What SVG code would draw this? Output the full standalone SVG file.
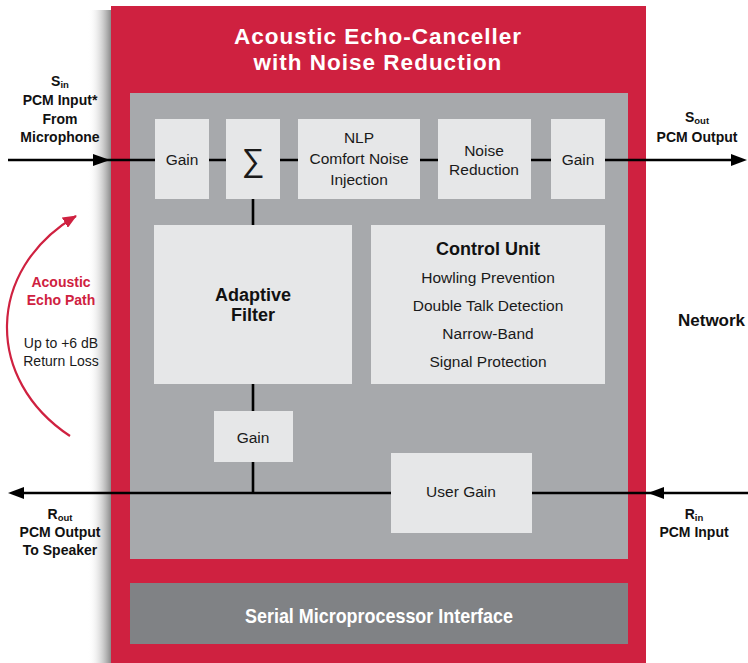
<svg xmlns="http://www.w3.org/2000/svg" width="748" height="663" viewBox="0 0 748 663">
<style>
text{font-family:"Liberation Sans",Arial,sans-serif;}
.blk{fill:#e6e7e8;}
.t{font-size:15.5px;fill:#1a1a1a;text-anchor:middle;}
.b{font-size:18px;font-weight:bold;fill:#111;text-anchor:middle;}
.lbl{font-size:14px;font-weight:bold;fill:#111;text-anchor:middle;}
.sub{font-size:9.5px;}
.ttl{font-size:22.5px;font-weight:bold;fill:#fff;text-anchor:middle;letter-spacing:1px;}
.ln{stroke:#000;stroke-width:2.6;fill:none;}
.ah{fill:#000;}
</style>
<defs>
<linearGradient id="sh" x1="0" y1="0" x2="1" y2="0">
<stop offset="0" stop-color="#fff" stop-opacity="0"/>
<stop offset="1" stop-color="#8a8a8a"/>
</linearGradient>
<marker id="ra" markerUnits="userSpaceOnUse" markerWidth="14" markerHeight="12" refX="13" refY="6" orient="auto">
<path d="M0,0 L14,6 L0,12 z" fill="#cf2140"/>
</marker>
</defs>
<rect width="748" height="663" fill="#fff"/>
<rect x="88" y="10" width="23" height="653" fill="url(#sh)"/>
<g id="chip">
<rect x="111" y="6" width="535" height="657" fill="#cf2140"/>
<text class="ttl" x="378" y="44">Acoustic Echo-Canceller</text>
<text class="ttl" x="378" y="70">with Noise Reduction</text>
<rect x="130" y="93" width="498" height="466" fill="#a7a9ac"/>
</g>
<g id="serial">
<rect x="130" y="583" width="498" height="61" fill="#808285"/>
<text x="379" y="623" font-size="20" font-weight="bold" fill="#fff" text-anchor="middle" textLength="268" lengthAdjust="spacingAndGlyphs">Serial Microprocessor Interface</text>
</g>
<g id="connectors">
<path class="ln" d="M8,160 H155 M209,160 H226 M280,160 H298 M420,160 H438 M531,160 H551 M605,160 H734"/>
<path class="ln" d="M253,199 V225 M253,384 V411 M253,462 V493"/>
<path class="ln" d="M748,493 H532 M391,493 H22"/>
<polygon class="ah" points="110,160 93,154 93,166"/>
<polygon class="ah" points="747,160 731,154 731,166"/>
<polygon class="ah" points="648,493 664,487 664,499"/>
<polygon class="ah" points="8,493 24,487 24,499"/>
<path d="M70,436 C-15,380 -15,270 76,216" stroke="#cf2140" stroke-width="2.2" fill="none" marker-end="url(#ra)"/>
</g>
<g id="gain1"><rect class="blk" x="155" y="119" width="54" height="80"/><text class="t" x="182" y="165">Gain</text></g>
<g id="sum"><rect class="blk" x="226" y="119" width="54" height="80"/><text x="253" y="171" font-size="32" fill="#1a1a1a" text-anchor="middle" font-family="'DejaVu Sans',sans-serif">∑</text></g>
<g id="nlp"><rect class="blk" x="298" y="119" width="122" height="80"/>
<text class="t" x="359" y="143">NLP</text><text class="t" x="359" y="164">Comfort Noise</text><text class="t" x="359" y="185">Injection</text></g>
<g id="noise"><rect class="blk" x="438" y="119" width="93" height="80"/>
<text class="t" x="484" y="156">Noise</text><text class="t" x="484" y="175">Reduction</text></g>
<g id="gain2"><rect class="blk" x="551" y="119" width="54" height="80"/><text class="t" x="578" y="165">Gain</text></g>
<g id="adaptive"><rect class="blk" x="154" y="225" width="198" height="159"/>
<text class="b" x="253" y="301">Adaptive</text><text class="b" x="253" y="321">Filter</text></g>
<g id="control"><rect class="blk" x="371" y="225" width="234" height="159"/>
<text class="b" x="488" y="255">Control Unit</text>
<text class="t" x="488" y="283">Howling Prevention</text>
<text class="t" x="488" y="311">Double Talk Detection</text>
<text class="t" x="488" y="339">Narrow-Band</text>
<text class="t" x="488" y="367">Signal Protection</text></g>
<g id="gain3"><rect class="blk" x="214" y="411" width="79" height="51"/><text class="t" x="253" y="443">Gain</text></g>
<g id="usergain"><rect class="blk" x="391" y="453" width="141" height="80"/><text class="t" x="461" y="497">User Gain</text></g>
<g id="labels">
<text class="lbl" x="60" y="86">S<tspan class="sub" dy="2">in</tspan></text>
<text class="lbl" x="60" y="105">PCM Input*</text>
<text class="lbl" x="60" y="124">From</text>
<text class="lbl" x="60" y="142">Microphone</text>
<text class="lbl" x="697" y="122">S<tspan class="sub" dy="2">out</tspan></text>
<text class="lbl" x="697" y="142">PCM Output</text>
<text class="lbl" x="60" y="519">R<tspan class="sub" dy="2">out</tspan></text>
<text class="lbl" x="60" y="537">PCM Output</text>
<text class="lbl" x="60" y="555">To Speaker</text>
<text class="lbl" x="694" y="519">R<tspan class="sub" dy="2">in</tspan></text>
<text class="lbl" x="694" y="537">PCM Input</text>
<text x="678" y="326" font-size="17" font-weight="bold" fill="#111">Network</text>
<text class="lbl" x="61" y="287" style="fill:#cf2140">Acoustic</text>
<text class="lbl" x="61" y="305" style="fill:#cf2140">Echo Path</text>
<text x="61" y="348" font-size="14" fill="#1a1a1a" text-anchor="middle">Up to +6 dB</text>
<text x="61" y="366" font-size="14" fill="#1a1a1a" text-anchor="middle">Return Loss</text>
</g>
</svg>
